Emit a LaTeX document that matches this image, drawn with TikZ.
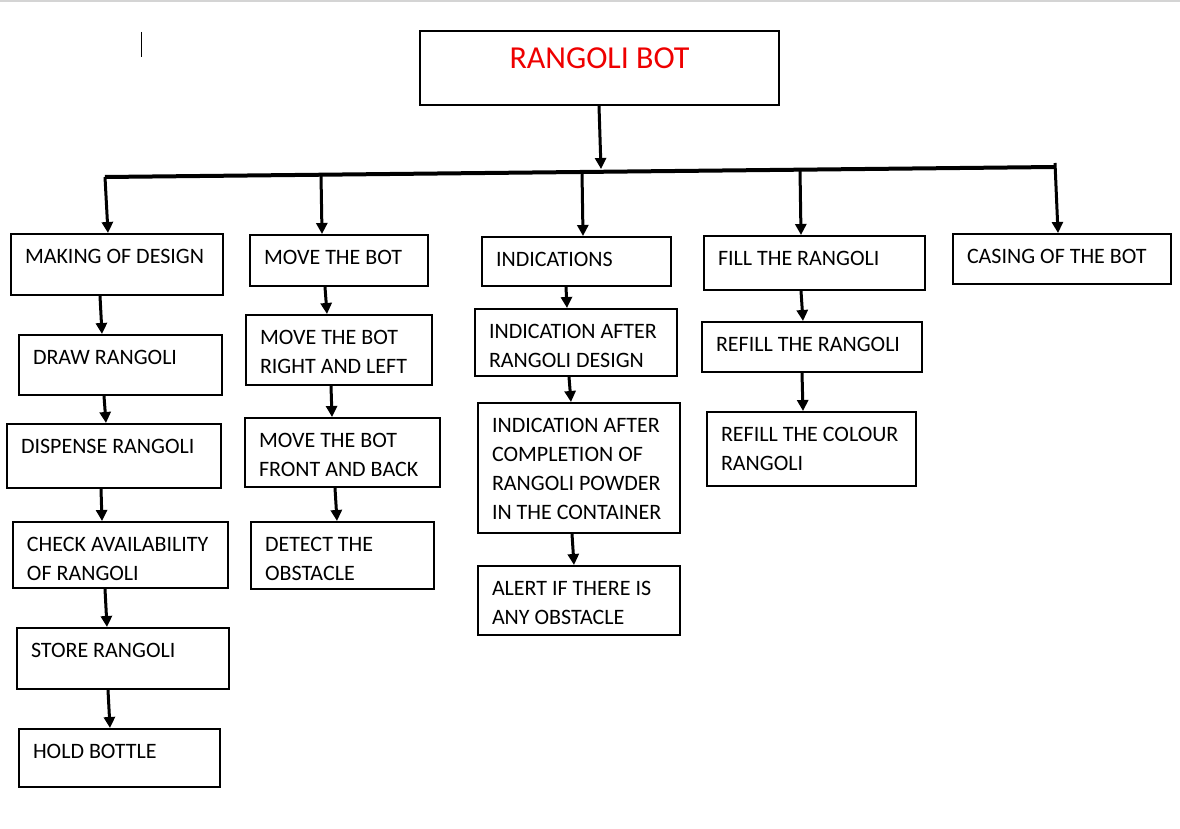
\documentclass[tikz,border=0pt]{standalone}
\usepackage{fontspec}
\setmainfont{Carlito}
\usetikzlibrary{arrows.meta}
\definecolor{titlered}{HTML}{EE0000}
\definecolor{pagegray}{HTML}{D4D4D4}

\begin{document}
\begin{tikzpicture}[x=1pt, y=-1pt,
    blk/.style={draw, line width=2pt, anchor=north west, align=flush left, inner xsep=14pt, inner ysep=8pt, text height=21pt, font=\fontsize{22}{29}\selectfont},
    ttl/.style={draw, line width=2pt, anchor=north west, align=flush center, inner xsep=14pt, inner ysep=8pt, text height=30pt, text=titlered, font=\fontsize{32}{38}\selectfont},
    arr/.style={line width=3pt, -{Triangle[width=11pt, length=11pt]}},
    bus/.style={line width=4pt}]
    \useasboundingbox (0,0) rectangle (1180,829);
    \draw [pagegray, line width=2pt] (0,1) to (1180,1);
    \draw [line width=1pt] (141,32) to (141,57);

    \node [ttl, text width=331pt, text depth=28pt] (rb) at (419,30) {RANGOLI BOT};

    \node [blk, text width=184pt, text depth=24pt] (mk) at (10,233) {MAKING OF DESIGN};
    \node [blk, text width=150pt, text depth=14pt] (mv) at (249,234) {MOVE THE BOT};
    \node [blk, text width=161pt, text depth=12pt] (in) at (481,236) {INDICATIONS};
    \node [blk, text width=193pt, text depth=17pt] (fl) at (703,235) {FILL THE RANGOLI};
    \node [blk, text width=190pt, text depth=13pt] (cs) at (952,233) {CASING OF THE BOT};

    \node [blk, text width=175pt, text depth=23pt] (dr) at (18,334) {DRAW RANGOLI};
    \node [blk, text width=186pt, text depth=27pt] (ds) at (6,423) {DISPENSE RANGOLI};
    \node [blk, text width=187pt, text depth=29pt] (ck) at (12,521) {CHECK AVAILABILITY\\OF RANGOLI};
    \node [blk, text width=184pt, text depth=24pt] (st) at (16,627) {STORE RANGOLI};
    \node [blk, text width=173pt, text depth=21pt] (hb) at (18,728) {HOLD BOTTLE};

    \node [blk, text width=158pt, text depth=33pt] (rl) at (245,314) {MOVE THE BOT\\RIGHT AND LEFT};
    \node [blk, text width=167pt, text depth=32pt] (fb) at (244,417) {MOVE THE BOT\\FRONT AND BACK};
    \node [blk, text width=155pt, text depth=30pt] (dt) at (250,521) {DETECT THE\\OBSTACLE};

    \node [blk, text width=174pt, text depth=30pt] (ia) at (474,308) {INDICATION AFTER\\RANGOLI DESIGN};
    \node [blk, text width=174pt, text depth=93pt] (ic) at (477,402) {INDICATION AFTER\\COMPLETION OF\\RANGOLI POWDER\\IN THE CONTAINER};
    \node [blk, text width=174pt, text depth=32pt] (al) at (477,565) {ALERT IF THERE IS\\ANY OBSTACLE};

    \node [blk, text width=192pt, text depth=13pt] (rf) at (701,321) {REFILL THE RANGOLI};
    \node [blk, text width=181pt, text depth=37pt] (rc) at (706,411) {REFILL THE COLOUR\\RANGOLI};

    \coordinate (hub) at (601,169);
    \coordinate (bl) at (105,177);
    \coordinate (br) at (1055,167);
    \coordinate (j2) at (321,175);
    \coordinate (j3) at (582,172);
    \coordinate (j4) at (800,170);

    \draw [arr] ([xshift=180pt]rb.south west) to (hub);
    \draw [bus] (bl) to (br);
    \draw [arr] (bl) to ([xshift=98pt]mk.north west);
    \draw [arr] (j2) to ([xshift=73pt]mv.north west);
    \draw [arr] (j3) to ([xshift=102pt]in.north west);
    \draw [arr] (j4) to ([xshift=98pt]fl.north west);
    \draw [arr] ([yshift=4pt]br) to ([xshift=106pt]cs.north west);

    \draw [arr] ([xshift=90pt]mk.south west) to ([xshift=84pt]dr.north west);
    \draw [arr] ([xshift=86pt]dr.south west) to ([xshift=100pt]ds.north west);
    \draw [arr] ([xshift=95pt]ds.south west) to ([xshift=90pt]ck.north west);
    \draw [arr] ([xshift=93pt]ck.south west) to ([xshift=91pt]st.north west);
    \draw [arr] ([xshift=92pt]st.south west) to ([xshift=92pt]hb.north west);

    \draw [arr] ([xshift=76pt]mv.south west) to ([xshift=82pt]rl.north west);
    \draw [arr] ([xshift=86pt]rl.south west) to ([xshift=88pt]fb.north west);
    \draw [arr] ([xshift=91pt]fb.south west) to ([xshift=87pt]dt.north west);

    \draw [arr] ([xshift=85pt]in.south west) to ([xshift=93pt]ia.north west);
    \draw [arr] ([xshift=95pt]ia.south west) to ([xshift=94pt]ic.north west);
    \draw [arr] ([xshift=95pt]ic.south west) to ([xshift=97pt]al.north west);

    \draw [arr] ([xshift=98pt]fl.south west) to ([xshift=102pt]rf.north west);
    \draw [arr] ([xshift=101pt]rf.south west) to ([xshift=97pt]rc.north west);
\end{tikzpicture}
\end{document}
